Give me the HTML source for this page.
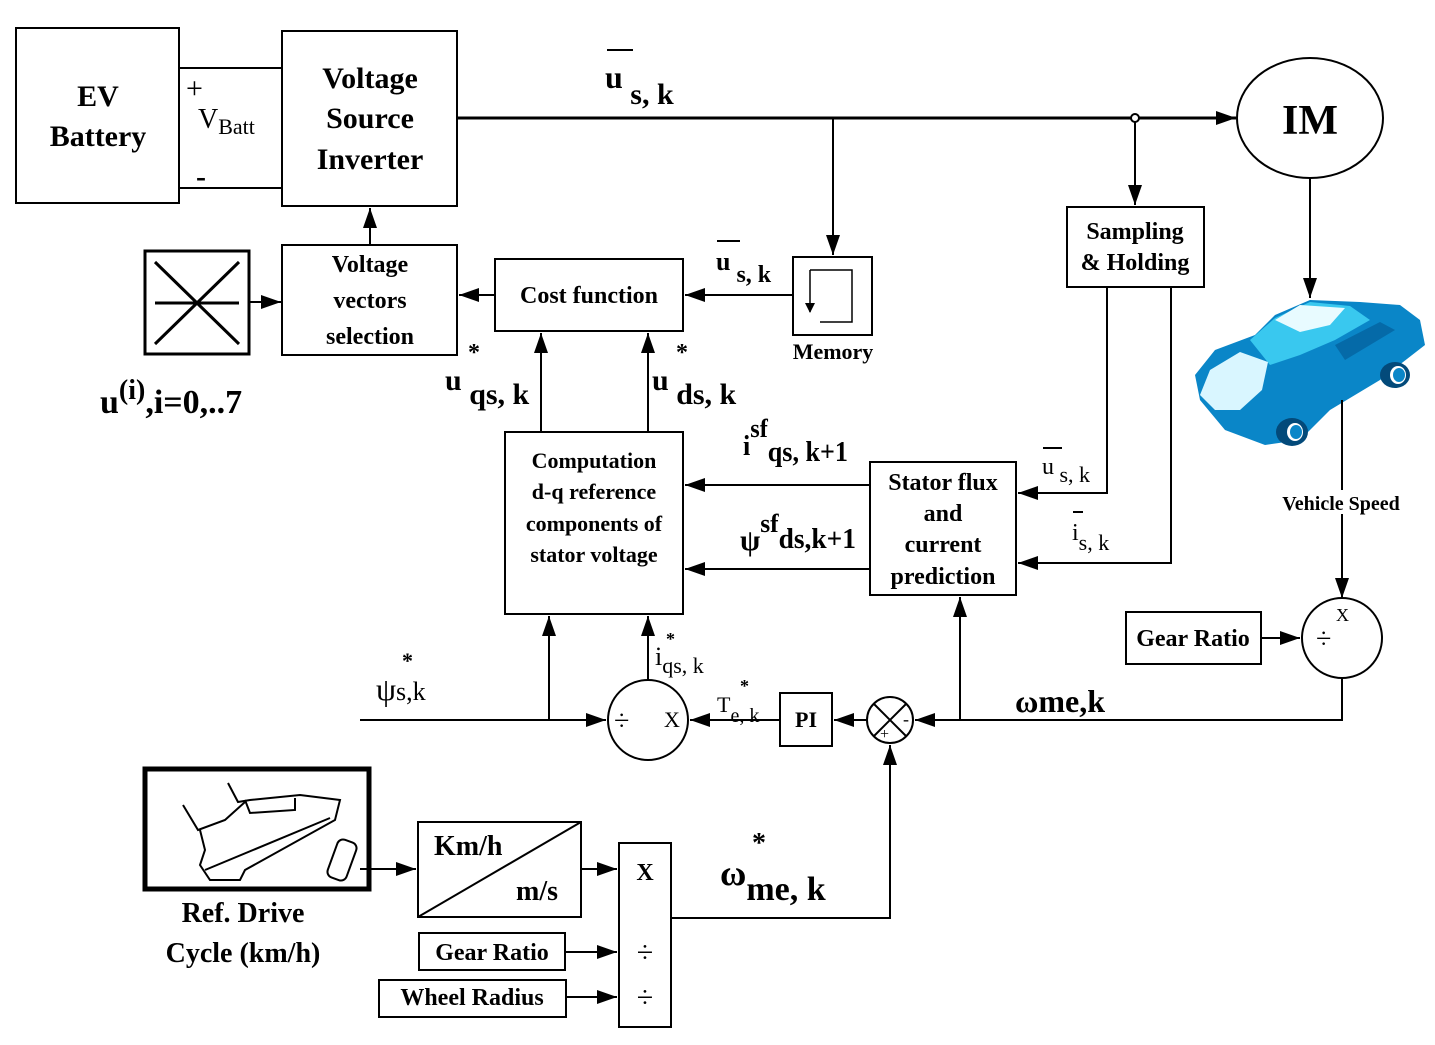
<!DOCTYPE html>
<html><head><meta charset="utf-8"><style>
html,body{margin:0;padding:0;background:#fff}
svg{display:block}
text{font-family:"Liberation Serif",serif;font-weight:bold;fill:#000}
</style></head><body>
<svg width="1435" height="1045" viewBox="0 0 1435 1045" xmlns="http://www.w3.org/2000/svg">
<defs>
<marker id="a" markerWidth="10" markerHeight="10" refX="9" refY="5" orient="auto" markerUnits="userSpaceOnUse" viewBox="0 0 10 10"><path d="M0,0 L10,5 L0,10 z" fill="#000"/></marker>
<marker id="b" markerWidth="20" markerHeight="14" refX="20" refY="7" orient="auto" markerUnits="userSpaceOnUse" viewBox="0 0 20 14"><path d="M0,0 L20,7 L0,14 z" fill="#000"/></marker>
</defs>
<g fill="none" stroke="#000" stroke-width="2">
<rect x="16" y="28" width="163" height="175"/>
<line x1="179" y1="68" x2="282" y2="68"/>
<line x1="179" y1="188" x2="282" y2="188"/>
<rect x="282" y="31" width="175" height="175"/>
<line x1="457" y1="118" x2="1236" y2="118" stroke-width="3" marker-end="url(#b)"/>
<ellipse cx="1310" cy="118" rx="73" ry="60"/>
<line x1="833" y1="118" x2="833" y2="255" marker-end="url(#b)"/>
<circle cx="1135" cy="118" r="4" fill="#fff"/>
<line x1="1135" y1="122" x2="1135" y2="205" marker-end="url(#b)"/>
<rect x="793" y="257" width="79" height="78"/>
<path d="M810,270 L852,270 L852,322 L820,322" stroke-width="1.5"/>
<path d="M810,270 L810,312" stroke-width="1.5" marker-end="url(#a)"/>
<rect x="1067" y="207" width="137" height="80"/>
<rect x="495" y="259" width="188" height="72"/>
<line x1="793" y1="295" x2="685" y2="295" marker-end="url(#b)"/>
<rect x="282" y="245" width="175" height="110"/>
<line x1="495" y1="295" x2="459" y2="295" marker-end="url(#b)"/>
<line x1="370" y1="245" x2="370" y2="208" marker-end="url(#b)"/>
<rect x="145" y="251" width="104" height="103" stroke-width="3"/>
<line x1="155" y1="262" x2="239" y2="344" stroke-width="3"/>
<line x1="239" y1="262" x2="155" y2="344" stroke-width="3"/>
<line x1="155" y1="303" x2="239" y2="303" stroke-width="3"/>
<line x1="249" y1="302" x2="281" y2="302" marker-end="url(#b)"/>
<rect x="505" y="432" width="178" height="182"/>
<line x1="541" y1="432" x2="541" y2="333" marker-end="url(#b)"/>
<line x1="648" y1="432" x2="648" y2="333" marker-end="url(#b)"/>
<rect x="870" y="462" width="146" height="133"/>
<line x1="870" y1="485" x2="685" y2="485" marker-end="url(#b)"/>
<line x1="870" y1="569" x2="685" y2="569" marker-end="url(#b)"/>
<path d="M1107,287 L1107,493 L1018,493" marker-end="url(#b)"/>
<path d="M1171,287 L1171,563 L1018,563" marker-end="url(#b)"/>
<line x1="1310" y1="178" x2="1310" y2="298" marker-end="url(#b)"/>
<line x1="1342" y1="400" x2="1342" y2="598" marker-end="url(#b)"/>
<circle cx="1342" cy="638" r="40"/>
<rect x="1126" y="612" width="135" height="52"/>
<line x1="1261" y1="638" x2="1300" y2="638" marker-end="url(#b)"/>
<path d="M1342,678 L1342,720 L915,720" marker-end="url(#b)"/>
<line x1="960" y1="720" x2="960" y2="597" marker-end="url(#b)"/>
<circle cx="890" cy="720" r="23"/>
<line x1="874" y1="704" x2="906" y2="736"/>
<line x1="906" y1="704" x2="874" y2="736"/>
<line x1="867" y1="720" x2="834" y2="720" marker-end="url(#b)"/>
<rect x="780" y="693" width="52" height="53"/>
<line x1="780" y1="720" x2="690" y2="720" marker-end="url(#b)"/>
<circle cx="648" cy="720" r="40"/>
<line x1="648" y1="680" x2="648" y2="616" marker-end="url(#b)"/>
<line x1="360" y1="720" x2="606" y2="720" marker-end="url(#b)"/>
<line x1="549" y1="720" x2="549" y2="616" marker-end="url(#b)"/>
<path d="M671,918 L890,918 L890,745" marker-end="url(#b)"/>
<rect x="619" y="843" width="52" height="184"/>
<rect x="418" y="822" width="163" height="95"/>
<line x1="418" y1="917" x2="581" y2="822"/>
<line x1="581" y1="869" x2="617" y2="869" marker-end="url(#b)"/>
<rect x="419" y="933" width="146" height="37"/>
<line x1="565" y1="952" x2="617" y2="952" marker-end="url(#b)"/>
<rect x="379" y="980" width="187" height="37"/>
<line x1="566" y1="997" x2="617" y2="997" marker-end="url(#b)"/>
<rect x="145" y="769" width="224" height="120" stroke-width="5"/>
<line x1="360" y1="869" x2="416" y2="869" marker-end="url(#b)"/>
<g stroke-width="2">
<path d="M200,830 L205,850 L200,865 L210,880 L240,880 L245,870 L335,820 L340,800 L300,795 L250,800 L238,802 L228,783"/>
<path d="M183,805 L198,830 L225,820 L245,802"/>
<path d="M245,800 L250,813 L295,810 L295,798"/>
<path d="M205,870 L330,818"/>
<rect x="332" y="840" width="20" height="40" rx="6" transform="rotate(20 342 860)"/>
</g>
</g>
<g>
<path d="M1200,400 L1195,375 L1215,350 L1255,335 L1275,315 L1310,300 L1360,302 L1400,305 L1420,320 L1425,345 L1380,380 L1330,410 L1300,440 L1265,445 L1225,430 Z" fill="#0a86c8"/>
<path d="M1250,340 L1275,318 L1310,302 L1350,306 L1370,320 L1335,340 L1300,355 L1270,365 Z" fill="#39c8ef"/>
<path d="M1275,320 L1300,305 L1345,308 L1330,325 L1300,332 Z" fill="#e8fbff"/>
<path d="M1200,395 L1210,370 L1240,352 L1268,362 L1262,390 L1240,410 L1215,410 Z" fill="#d9f6ff"/>
<path d="M1335,345 L1380,322 L1395,330 L1345,360 Z" fill="#056aa8"/>
<ellipse cx="1292" cy="432" rx="16" ry="14" fill="#034a7a"/><ellipse cx="1295" cy="432" rx="8" ry="9" fill="#fff"/><ellipse cx="1296" cy="432" rx="6" ry="7" fill="#0a86c8"/>
<ellipse cx="1395" cy="375" rx="15" ry="13" fill="#034a7a"/><ellipse cx="1398" cy="375" rx="8" ry="9" fill="#fff"/><ellipse cx="1399" cy="375" rx="6" ry="7" fill="#0a86c8"/>
<line x1="1342" y1="400" x2="1342" y2="420" stroke="#000" stroke-width="2"/>
</g>
<rect x="1272" y="490" width="140" height="24" fill="#fff"/>
<g font-size="30">
<text x="98" y="106" text-anchor="middle">EV</text>
<text x="98" y="146" text-anchor="middle">Battery</text>
<text x="370" y="88" text-anchor="middle">Voltage</text>
<text x="370" y="128" text-anchor="middle">Source</text>
<text x="370" y="169" text-anchor="middle">Inverter</text>
</g>
<text x="186" y="98" font-size="30" style="font-weight:normal">+</text>
<text x="198" y="128" font-size="28" style="font-weight:normal">V<tspan font-size="22" dy="6">Batt</tspan></text>
<text x="196" y="186" font-size="30">-</text>
<text x="1310" y="134" font-size="42" text-anchor="middle">IM</text>
<text x="605" y="88" font-size="32">u<tspan font-size="30" dy="16"> s,  k</tspan></text>
<line x1="607" y1="50" x2="633" y2="50" stroke="#000" stroke-width="2"/>
<g font-size="24" text-anchor="middle">
<text x="1135" y="239">Sampling</text>
<text x="1135" y="270">&amp; Holding</text>
<text x="589" y="303">Cost function</text>
<text x="370" y="272">Voltage</text>
<text x="370" y="308">vectors</text>
<text x="370" y="344">selection</text>
<text x="594" y="468" font-size="22">Computation</text>
<text x="594" y="499" font-size="22">d-q reference</text>
<text x="594" y="531" font-size="22">components of</text>
<text x="594" y="562" font-size="22">stator voltage</text>
<text x="943" y="490">Stator flux</text>
<text x="943" y="521">and</text>
<text x="943" y="552">current</text>
<text x="943" y="584">prediction</text>
<text x="833" y="359" font-size="22">Memory</text>
<text x="1341" y="510" font-size="20">Vehicle Speed</text>
<text x="1193" y="646">Gear Ratio</text>
<text x="806" y="727" font-size="22">PI</text>
<text x="492" y="960">Gear Ratio</text>
<text x="472" y="1005">Wheel Radius</text>
<text x="243" y="922" font-size="28">Ref. Drive</text>
<text x="243" y="962" font-size="28">Cycle (km/h)</text>
</g>
<text x="716" y="270" font-size="26">u<tspan font-size="24" dy="12"> s,  k</tspan></text>
<line x1="717" y1="241" x2="740" y2="241" stroke="#000" stroke-width="2"/>
<text x="100" y="413" font-size="34">u<tspan font-size="28" dy="-14">(i)</tspan><tspan dy="14">,i=0,..7</tspan></text>
<text x="445" y="390" font-size="30">u<tspan dy="14"> qs,  k</tspan></text>
<text x="468" y="360" font-size="24">*</text>
<text x="652" y="390" font-size="30">u<tspan dy="14"> ds,   k</tspan></text>
<text x="676" y="360" font-size="24">*</text>
<text x="743" y="455" font-size="28" textLength="105" lengthAdjust="spacingAndGlyphs">i<tspan dy="-18" font-size="26">sf</tspan><tspan dy="24" font-size="28">qs, k+1</tspan></text>
<text x="740" y="550" font-size="30" textLength="116" lengthAdjust="spacingAndGlyphs">ψ<tspan dy="-18" font-size="26">sf</tspan><tspan dy="16" font-size="28">ds,k+1</tspan></text>
<text x="1042" y="474" font-size="24" style="font-weight:normal">u<tspan font-size="22" dy="8"> s,  k</tspan></text>
<line x1="1043" y1="448" x2="1062" y2="448" stroke="#000" stroke-width="2"/>
<text x="1072" y="540" font-size="24" style="font-weight:normal">i<tspan font-size="22" dy="10">s,  k</tspan></text>
<line x1="1073" y1="512" x2="1083" y2="512" stroke="#000" stroke-width="2"/>
<text x="1316" y="648" font-size="28" style="font-weight:normal">÷</text>
<text x="1336" y="621" font-size="18" style="font-weight:normal">X</text>
<text x="614" y="730" font-size="28" style="font-weight:normal">÷</text>
<text x="664" y="727" font-size="22" style="font-weight:normal">X</text>
<text x="880" y="739" font-size="16" style="font-weight:normal">+</text>
<text x="903" y="725" font-size="18" style="font-weight:normal">-</text>
<text x="1015" y="712" font-size="32">ωme,k</text>
<text x="717" y="712" font-size="22" style="font-weight:normal">T<tspan dy="10" font-size="20">e,  k</tspan></text>
<text x="740" y="692" font-size="18">*</text>
<text x="655" y="665" font-size="26" style="font-weight:normal">i<tspan dy="8" font-size="22">qs,   k</tspan></text>
<text x="666" y="645" font-size="18">*</text>
<text x="376" y="700" font-size="32" style="font-weight:normal">ψ<tspan font-size="26">s,k</tspan></text>
<text x="402" y="668" font-size="22">*</text>
<text x="434" y="855" font-size="28">Km/h</text>
<text x="516" y="900" font-size="28">m/s</text>
<text x="645" y="880" font-size="24" text-anchor="middle">X</text>
<text x="645" y="962" font-size="30" text-anchor="middle" style="font-weight:normal">÷</text>
<text x="645" y="1007" font-size="30" text-anchor="middle" style="font-weight:normal">÷</text>
<text x="720" y="885" font-size="36">ω<tspan dy="15" font-size="34">me,  k</tspan></text>
<text x="752" y="852" font-size="28">*</text>
</svg>
</body></html>
